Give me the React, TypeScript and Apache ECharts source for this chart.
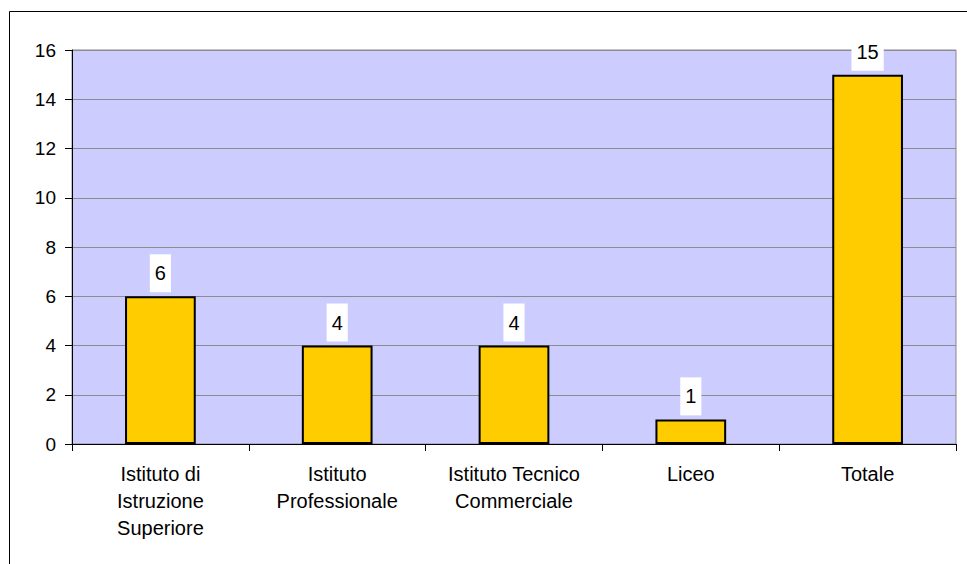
import React, { useEffect, useRef } from "react";
import * as echarts from "echarts";

const categories = [
  "Istituto di\nIstruzione\nSuperiore",
  "Istituto\nProfessionale",
  "Istituto Tecnico\nCommerciale",
  "Liceo",
  "Totale",
];
const values = [6, 4, 4, 1, 15];
const yMin = 0;
const yMax = 16;
const yInterval = 2;

const FONT = "'Liberation Sans', Arial, sans-serif";

export default function App() {
  const ref = useRef<HTMLDivElement>(null);
  useEffect(() => {
    if (!ref.current) return;
    const chart = echarts.init(ref.current, null, { renderer: "svg" });
    chart.setOption({
      animation: false,
      backgroundColor: "#ffffff",
      textStyle: { fontFamily: FONT },
      graphic: [
        {
          type: "rect",
          x: 9.5,
          y: 11.5,
          shape: { x: 0, y: 0, width: 1000, height: 600 },
          style: { fill: "none", stroke: "#000", lineWidth: 1 },
          silent: true,
          z: -1,
        },
      ],
      grid: {
        left: 72,
        top: 50,
        right: 11,
        bottom: 120,
        show: true,
        backgroundColor: "#CCCCFF",
        borderColor: "#888888",
        borderWidth: 1,
      },
      xAxis: {
        type: "category",
        data: categories,
        axisLine: { lineStyle: { color: "#000", width: 1 } },
        axisTick: { show: true, length: 7, lineStyle: { color: "#000" } },
        axisLabel: {
          fontSize: 20,
          color: "#000",
          fontFamily: FONT,
          lineHeight: 27,
          margin: 16,
          interval: 0,
        },
        splitLine: { show: false },
      },
      yAxis: {
        type: "value",
        min: yMin,
        max: yMax,
        interval: yInterval,
        axisLine: { show: true, lineStyle: { color: "#000", width: 1 } },
        axisTick: { show: true, length: 7, lineStyle: { color: "#000" } },
        axisLabel: { fontSize: 19, color: "#000", fontFamily: FONT, margin: 16 },
        splitLine: { show: true, lineStyle: { color: "#8c8c8c", width: 1 } },
      },
      series: [
        {
          type: "bar",
          data: values,
          barWidth: "40%",
          itemStyle: { color: "#FFCC00", borderColor: "#000", borderWidth: 2 },
          label: {
            show: true,
            position: "top",
            distance: 4,
            fontSize: 20,
            color: "#000",
            fontFamily: FONT,
            backgroundColor: "#ffffff",
            padding: [9, 5],
          },
        },
      ],
    });
    return () => chart.dispose();
  }, []);
  return (
    <div
      ref={ref}
      style={{ position: "absolute", left: 0, top: 0, width: 967, height: 564 }}
    />
  );
}
